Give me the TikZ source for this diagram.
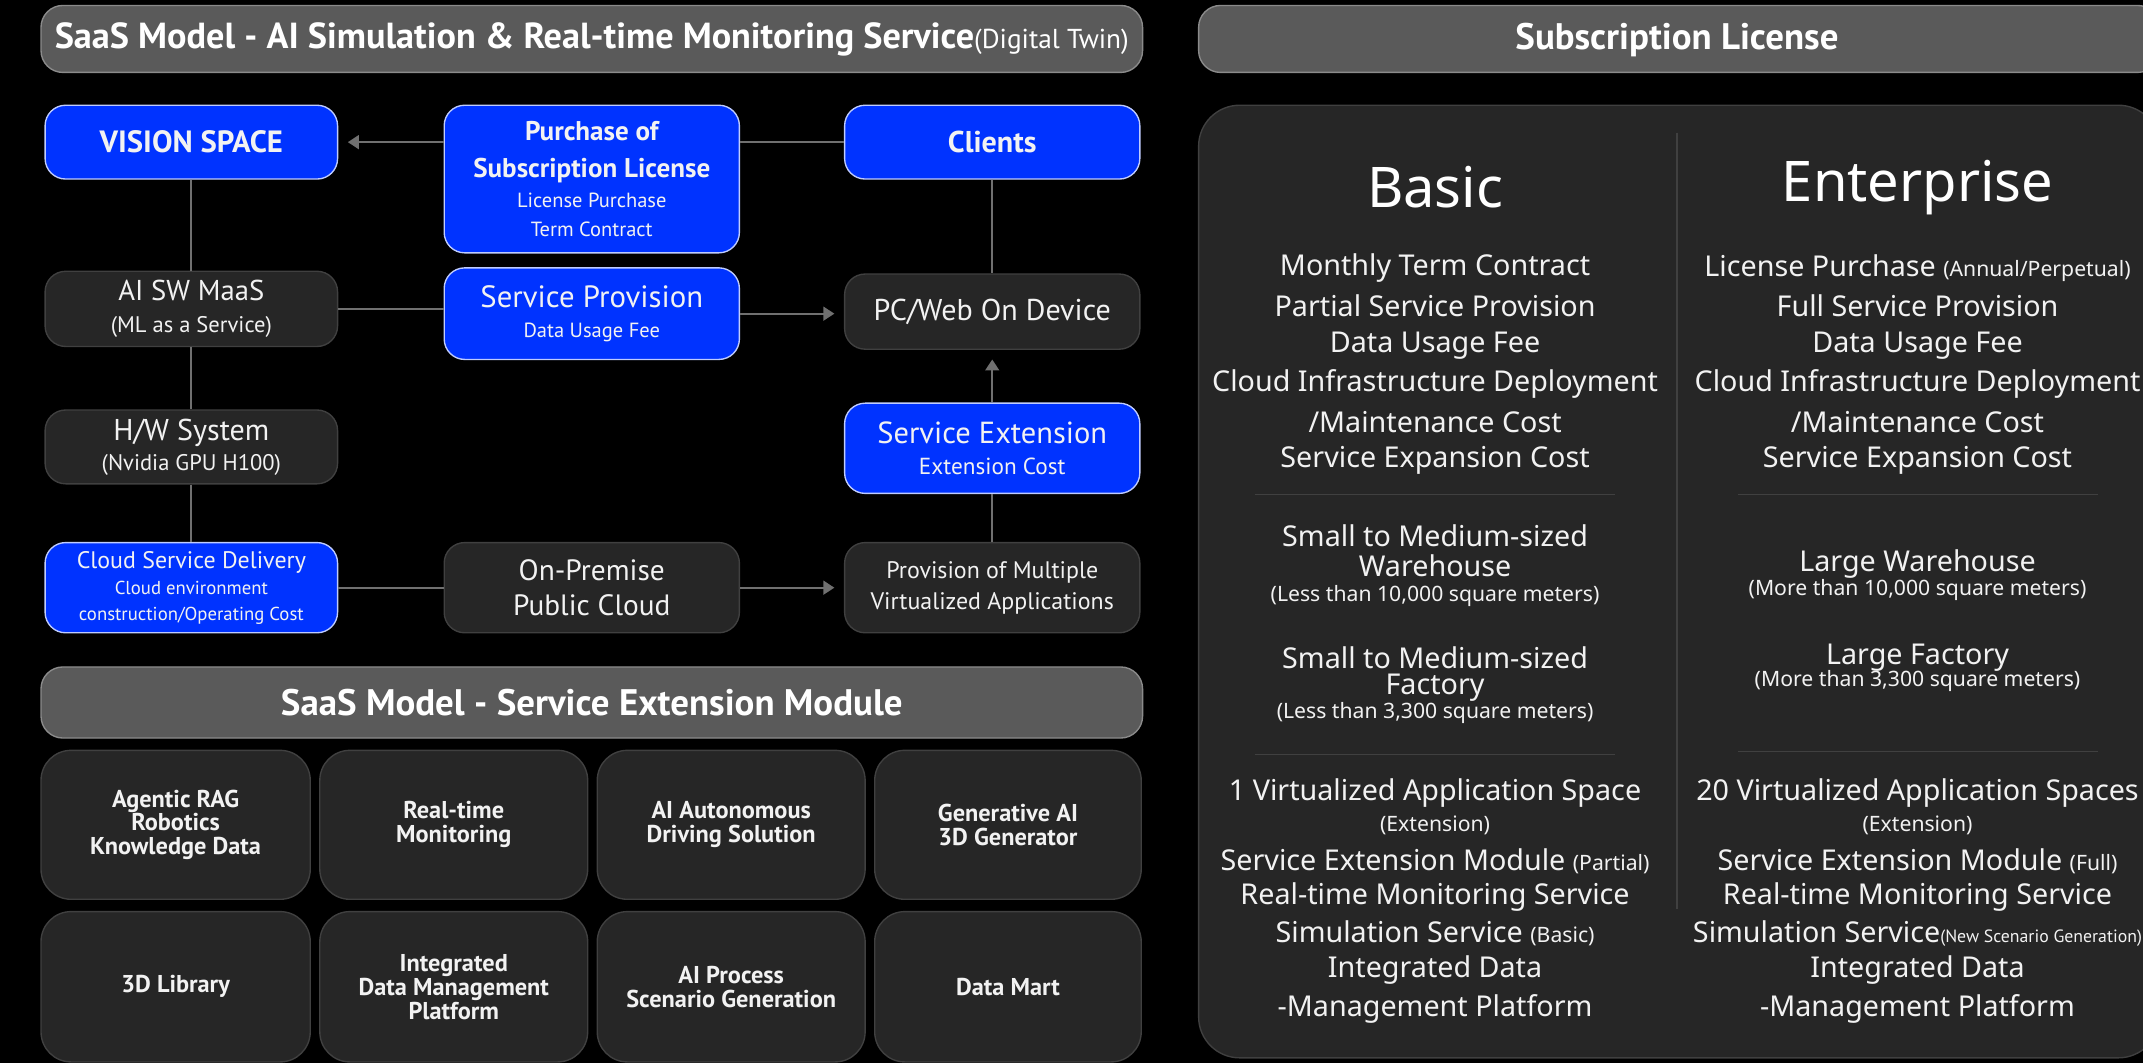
\documentclass[tikz,border=0pt]{standalone}
\usepackage{fontspec}
\setmainfont{Noto Sans}
\newfontfamily\cond{PT Sans}
\usetikzlibrary{arrows.meta}
\definecolor{vblue}{RGB}{0,51,255}
\definecolor{hdr}{RGB}{90,90,90}
\definecolor{dk}{RGB}{38,38,38}
\definecolor{dkb}{RGB}{64,64,64}
\definecolor{ln}{RGB}{112,112,112}
\definecolor{txt}{RGB}{242,242,242}
\newcommand{\fs}[2]{\fontsize{#1}{#2}\selectfont}
\begin{document}
\begin{tikzpicture}[x=1pt,y=-1pt,
  hdrbox/.style={fill=hdr, draw=hdr!70!white, line width=1pt, rounded corners=16pt, text=white, inner sep=0pt, font={\cond\bfseries\fs{26.5}{28}}},
  flowbox/.style={line width=1pt, rounded corners=15pt, text=txt, inner sep=0pt, align=center},
  bluebox/.style={flowbox, fill=vblue, draw=white!75!vblue},
  darkbox/.style={flowbox, fill=dk, draw=dkb},
  modbox/.style={fill=dk, draw=dkb, line width=1pt, rounded corners=22pt, text=txt, inner sep=0pt, align=center, font={\cond\bfseries\fs{17.8}{17.5}}},
  conn/.style={draw=ln, line width=1.6pt},
  arr/.style={conn, -{Triangle[width=10pt,length=8pt]}, shorten >=7pt},
  ptxt/.style={text=txt, inner sep=0pt, align=center, font={\fs{21}{24}}},
  ptitle/.style={text=white, inner sep=0pt, font={\fs{41}{46}}},
  psmall/.style={text=txt, inner sep=0pt, align=center, font={\fs{15.5}{18}}},
  sepline/.style={draw=dkb, line width=1pt}
]
\fill[black] (0,0) rectangle (1568,778);
\useasboundingbox (0,0) rectangle (1568,778);

% ---------- headers ----------
\node[hdrbox, minimum width=806pt, minimum height=49pt] (h1) at (433,28.5)
  {SaaS Model - AI Simulation \& Real-time Monitoring Service{\mdseries\fs{20}{21}(Digital Twin)}};
\node[hdrbox, minimum width=703pt, minimum height=49pt] (h2) at (1228.5,28.5) {};
\node[text=white, inner sep=0pt, font={\cond\bfseries\fs{27}{28}}] (h2t) at (1227,29) {Subscription License};

% ---------- flow ----------
\node[bluebox, minimum width=214pt, minimum height=54pt, font={\cond\bfseries\fs{22.5}{24}}] (vision) at (140,104) {VISION SPACE};
\node[bluebox, minimum width=216pt, minimum height=108pt, font={\cond\fs{15}{21}}] (purchase) at (433,131)
  {\bfseries\fs{19.8}{21}Purchase of\\[6pt]\bfseries\fs{19.8}{21}Subscription License\\[1pt]License Purchase\\Term Contract};
\node[bluebox, minimum width=216pt, minimum height=54pt, font={\cond\bfseries\fs{22}{24}}] (clients) at (726,104) {Clients};

\node[darkbox, minimum width=214pt, minimum height=55pt, font={\cond\fs{16.5}{23}}] (maas) at (140,226)
  {\fs{21}{22}AI SW MaaS\\(ML as a Service)};
\node[bluebox, minimum width=216pt, minimum height=67pt, font={\cond\fs{15}{22}}] (provision) at (433,229.5)
  {\fs{22.5}{23}Service Provision\\Data Usage Fee};
\node[darkbox, minimum width=216pt, minimum height=55pt, font={\cond\fs{22}{24}}] (pcweb) at (726,228) {PC/Web On Device};

\node[darkbox, minimum width=214pt, minimum height=54pt, font={\cond\fs{16.5}{22}}] (hw) at (140,327)
  {\fs{22}{23}H/W System\\(Nvidia GPU H100)};
\node[bluebox, minimum width=216pt, minimum height=66pt, font={\cond\fs{17}{22}}] (ext) at (726,328)
  {\fs{22.3}{23}Service Extension\\Extension Cost};

\node[bluebox, minimum width=214pt, minimum height=66pt, font={\cond\fs{13.7}{19}}] (cloud) at (140,430)
  {\fs{17.5}{19}Cloud Service Delivery\\Cloud environment\\construction/Operating Cost};
\node[darkbox, minimum width=216pt, minimum height=66pt, font={\cond\fs{21.5}{25}}] (onprem) at (433,430)
  {On-Premise\\Public Cloud};
\node[darkbox, minimum width=216pt, minimum height=66pt, font={\cond\fs{17.5}{23}}] (multi) at (726,430)
  {Provision of Multiple\\Virtualized Applications};

\draw[arr] (vision.east -| purchase.west) -- (vision.east);
\draw[conn] (clients.west) -- (clients.west -| purchase.east);
\draw[conn] (vision.south) -- (maas.north);
\draw[conn] (maas.east) -- (maas.east -| provision.west);
\draw[arr] (provision.east) -- (provision.east -| pcweb.west);
\draw[conn] (clients.south) -- (pcweb.north);
\draw[conn] (maas.south) -- (hw.north);
\draw[conn] (hw.south) -- (cloud.north);
\draw[conn] (cloud.east) -- (onprem.west);
\draw[arr] (onprem.east) -- (multi.west);
\draw[conn] (multi.north) -- (ext.south);
\draw[arr] (ext.north) -- (pcweb.south);

% ---------- extension module ----------
\node[hdrbox, minimum width=806pt, minimum height=52pt, font={\cond\bfseries\fs{27}{28}}] (h3) at (433,514) {SaaS Model - Service Extension Module};

\node[modbox, minimum width=197pt, minimum height=109pt] (m1) at (128.5,603.5) {Agentic RAG\\Robotics\\Knowledge Data};
\node[modbox, minimum width=196pt, minimum height=109pt] (m2) at (332,603.5) {Real-time\\Monitoring};
\node[modbox, minimum width=196pt, minimum height=109pt] (m3) at (535,603.5) {AI Autonomous\\Driving Solution};
\node[modbox, minimum width=195pt, minimum height=109pt] (m4) at (737.5,603.5) {Generative AI\\3D Generator};
\node[modbox, minimum width=197pt, minimum height=110pt] (m5) at (128.5,722) {3D Library};
\node[modbox, minimum width=196pt, minimum height=110pt] (m6) at (332,722) {Integrated\\Data Management\\Platform};
\node[modbox, minimum width=196pt, minimum height=110pt] (m7) at (535,722) {AI Process\\Scenario Generation};
\node[modbox, minimum width=195pt, minimum height=110pt] (m8) at (737.5,722) {Data Mart};

% ---------- subscription panel ----------
\draw[fill=dk, draw=dkb, line width=1pt, rounded corners=30pt] (877,77) rectangle (1580,774);
\draw[sepline] (1227,97) -- (1227,665);
\draw[sepline] (918,362) -- (1182,362);
\draw[sepline] (1272,362) -- (1535,362);
\draw[sepline] (918,552) -- (1182,552);
\draw[sepline] (1272,550) -- (1535,550);

% Basic
\node[ptitle] (bt) at (1050,137) {Basic};
\node[ptxt] (b1) at (1050,196) {Monthly Term Contract};
\node[ptxt] (b2) at (1050,224) {Partial Service Provision};
\node[ptxt] (b3) at (1050,253) {Data Usage Fee};
\node[ptxt] (b4) at (1050,281) {Cloud Infrastructure Deployment};
\node[ptxt] (b5) at (1050,309) {/Maintenance Cost};
\node[ptxt] (b6) at (1050,337) {Service Expansion Cost};
\node[ptxt] (b7) at (1050,392) {Small to Medium-sized};
\node[ptxt] (b8) at (1050,414) {Warehouse};
\node[psmall] (b9) at (1050,436) {(Less than 10,000 square meters)};
\node[ptxt] (b10) at (1050,481) {Small to Medium-sized};
\node[ptxt] (b11) at (1050,503) {Factory};
\node[psmall] (b12) at (1050,522) {(Less than 3,300 square meters)};
\node[ptxt] (b13) at (1050,580) {1 Virtualized Application Space};
\node[psmall] (b14) at (1050,604) {(Extension)};
\node[ptxt] (b15) at (1050,630) {Service Extension Module {\fs{15.5}{18}(Partial)}};
\node[ptxt] (b16) at (1050,656) {Real-time Monitoring Service};
\node[ptxt] (b17) at (1050,683) {Simulation Service {\fs{15.5}{18}(Basic)}};
\node[ptxt] (b18) at (1050,710) {Integrated Data};
\node[ptxt] (b19) at (1050,738) {-Management Platform};

% Enterprise
\node[ptitle] (et) at (1403,137) {Enterprise};
\node[ptxt] (e1) at (1403,196) {License Purchase {\fs{15.5}{18}(Annual/Perpetual)}};
\node[ptxt] (e2) at (1403,224) {Full Service Provision};
\node[ptxt] (e3) at (1403,253) {Data Usage Fee};
\node[ptxt] (e4) at (1403,281) {Cloud Infrastructure Deployment};
\node[ptxt] (e5) at (1403,309) {/Maintenance Cost};
\node[ptxt] (e6) at (1403,337) {Service Expansion Cost};
\node[ptxt] (e7) at (1403,413) {Large Warehouse};
\node[psmall] (e8) at (1403,432) {(More than 10,000 square meters)};
\node[ptxt] (e9) at (1403,481) {Large Factory};
\node[psmall] (e10) at (1403,498) {(More than 3,300 square meters)};
\node[ptxt] (e11) at (1403,580) {20 Virtualized Application Spaces};
\node[psmall] (e12) at (1403,604) {(Extension)};
\node[ptxt] (e13) at (1403,630) {Service Extension Module {\fs{15.5}{18}(Full)}};
\node[ptxt] (e14) at (1403,656) {Real-time Monitoring Service};
\node[ptxt] (e15) at (1403,683) {Simulation Service{\cond\fs{13}{14}(New Scenario Generation)}};
\node[ptxt] (e16) at (1403,710) {Integrated Data};
\node[ptxt] (e17) at (1403,738) {-Management Platform};
\end{tikzpicture}
\end{document}
